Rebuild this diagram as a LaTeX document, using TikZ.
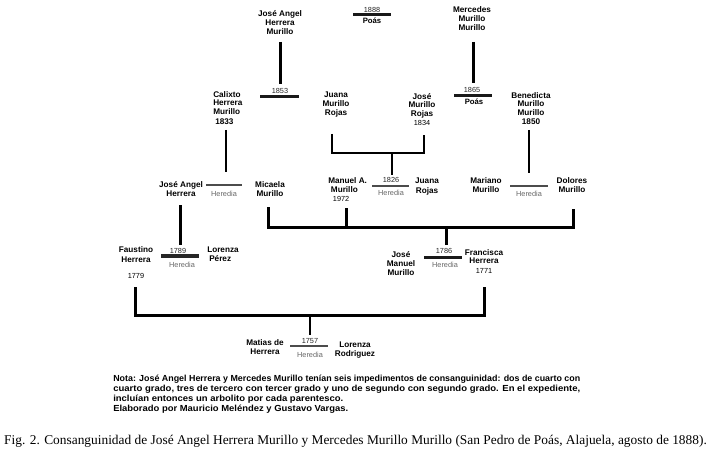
\documentclass[tikz,border=0pt]{standalone}
\usepackage{fontspec}
\usepackage{graphicx}
\newfontfamily\labfont{Liberation Sans}
\newfontfamily\capfont{Liberation Serif}
\tikzset{
  lbl/.style={font=\labfont\fontsize{6.15}{6.75}\selectfont\bfseries, inner sep=0pt, anchor=base, align=center},
  lbll/.style={lbl, align=left, anchor=base west},
  poas/.style={lbl, font=\labfont\fontsize{5.8}{6.5}\selectfont\bfseries},
  yr/.style={font=\labfont\fontsize{5.5}{6}\selectfont, text=black!85, inner sep=0pt, anchor=base},
  her/.style={yr, text=black!60},
  thick line/.style={line width=2.25pt, black},
  mid line/.style={line width=1.8pt, black},
  bar/.style={line width=2.25pt, black!90},
  thin bar/.style={line width=1.4pt, black!70},
}
\newcommand{\yrtxt}[1]{{\mdseries\fontsize{5.5}{6}\selectfont #1}}
\newcommand{\wline}[2]{\resizebox{#1}{\height}{#2}}
\begin{document}
\begin{tikzpicture}[x=0.75pt,y=-0.75pt]
\fill[white] (0,0) rectangle (711,453);
\useasboundingbox (0,0) rectangle (711,453);

% ---------- top row
\node[lbl] (jah) at (280,35) {José Angel\\Herrera\\Murillo};
\node[yr] (y1888) at (372,12.5) {1888};
\node[poas] (poas1) at (372,24) {Poás};
\node[lbl] (mmm) at (472,31) {Mercedes\\Murillo\\Murillo};

\coordinate (b1888a) at (353,15); \coordinate (b1888b) at (391,15);
\draw[bar] (b1888a) -- (b1888b);

\coordinate (jahA) at (280,42); \coordinate (jahB) at (280,84);
\draw[thick line] (jahA) -- (jahB);
\coordinate (mmmA) at (473,42); \coordinate (mmmB) at (473,83);
\draw[thick line] (mmmA) -- (mmmB);

\node[yr] (y1853) at (280,93.5) {1853};
\coordinate (b1853a) at (260,97); \coordinate (b1853b) at (299,97);
\draw[bar] (b1853a) -- (b1853b);

\node[yr] (y1865) at (472,92.5) {1865};
\coordinate (b1865a) at (454,96); \coordinate (b1865b) at (492,96);
\draw[bar] (b1865a) -- (b1865b);
\node[poas] (poas2) at (474,104.5) {Poás};

% ---------- second row
\node[lbll] (calixto) at (213,124) {Calixto\\Herrera\\Murillo\\\hspace*{1.5pt}1833};
\node[lbl] (jmr) at (336,116) {Juana\\Murillo\\Rojas};
\node[lbl] (josemr) at (422,126) {José\\Murillo\\Rojas\\\yrtxt{1834}};
\node[lbl] (bene) at (531,125) {Benedicta\\Murillo\\Murillo\\1850};

\coordinate (calA) at (226,130); \coordinate (calB) at (226,172);
\draw[mid line] (calA) -- (calB);
\coordinate (benA) at (529,130); \coordinate (benB) at (529,173);
\draw[mid line] (benA) -- (benB);

\coordinate (k1a) at (332,134); \coordinate (k1b) at (332,153);
\coordinate (k1c) at (424,153); \coordinate (k1d) at (424,135);
\draw[mid line] (k1a) -- (k1b) -- (k1c) -- (k1d);
\coordinate (k1m) at (392,153); \coordinate (k1n) at (392,175);
\draw[mid line] (k1m) -- (k1n);

% ---------- third row
\node[lbl] (jah2) at (181,196) {José Angel\\Herrera};
\coordinate (bjaha) at (206,185); \coordinate (bjahb) at (242,185);
\draw[thin bar] (bjaha) -- (bjahb);
\node[her] (h1) at (224,196.5) {Heredia};
\node[lbl] (micaela) at (270,196) {Micaela\\Murillo};

\node[lbll] (manuel) at (328,201) {Manuel A.\\\hspace*{2pt}Murillo\\\hspace*{3.5pt}\yrtxt{1972}};
\node[yr] (y1826) at (391,182.5) {1826};
\coordinate (b1826a) at (372,186); \coordinate (b1826b) at (409,186);
\draw[thin bar] (b1826a) -- (b1826b);
\node[her] (h2) at (391,195.5) {Heredia};
\node[lbl] (jrojas) at (427,193) {Juana\\Rojas};

\node[lbl] (mariano) at (486,192) {Mariano\\Murillo};
\coordinate (bmara) at (510,186); \coordinate (bmarb) at (548,186);
\draw[thin bar] (bmara) -- (bmarb);
\node[her] (h3) at (529,196.5) {Heredia};
\node[lbl] (dolores) at (572,192) {Dolores\\Murillo};

\coordinate (jah2A) at (180,205); \coordinate (jah2B) at (180,245);
\draw[thick line] (jah2A) -- (jah2B);

\coordinate (k2a) at (268,207); \coordinate (k2b) at (268,227.5);
\coordinate (k2c) at (573,227.5); \coordinate (k2d) at (573,209);
\draw[thick line] (k2a) -- (k2b) -- (k2c) -- (k2d);
\coordinate (k2e) at (346,208); \coordinate (k2f) at (346,227.5);
\draw[thick line] (k2e) -- (k2f);
\coordinate (k2m) at (446,227.5); \coordinate (k2n) at (446,245);
\draw[thick line] (k2m) -- (k2n);

% ---------- fourth row
\node[lbl] (faustino) at (136,278) {Faustino\\[0.75pt]Herrera\\[5pt]\yrtxt{1779}};
\node[yr] (y1789) at (178,253.5) {1789};
\coordinate (b1789a) at (161,256); \coordinate (b1789b) at (199,256);
\draw[line width=2.6pt, black!85] (b1789a) -- (b1789b);
\node[her] (h4) at (182,267.5) {Heredia};
\node[lbll] (lperez) at (207,261) {Lorenza\\\hspace*{1.5pt}Pérez};

\node[lbl] (jmm) at (401,275) {José\\Manuel\\Murillo};
\node[yr] (y1786) at (444,253.5) {1786};
\coordinate (b1786a) at (424,257); \coordinate (b1786b) at (462,257);
\draw[bar] (b1786a) -- (b1786b);
\node[her] (h5) at (445,267.5) {Heredia};
\node[lbl] (fh) at (484,273.6) {Francisca\\[-0.75pt]Herrera\\[0.75pt]\yrtxt{1771}};

\coordinate (k3a) at (135,287); \coordinate (k3b) at (135,315.5);
\coordinate (k3c) at (484,315.5); \coordinate (k3d) at (484,287);
\draw[thick line] (k3a) -- (k3b) -- (k3c) -- (k3d);
\coordinate (k3m) at (310,315.5); \coordinate (k3n) at (310,335);
\draw[mid line] (k3m) -- (k3n);

% ---------- bottom couple
\node[lbl] (matias) at (265,354) {Matias de\\Herrera};
\node[yr] (y1757) at (310,343.5) {1757};
\coordinate (b1757a) at (290,346); \coordinate (b1757b) at (328,346);
\draw[thin bar] (b1757a) -- (b1757b);
\node[her] (h6) at (310,357.5) {Heredia};
\node[lbl] (lrod) at (355,356) {Lorenza\\Rodriguez};

% ---------- note
\node[font=\labfont\fontsize{6.6}{7.6}\selectfont\bfseries, inner sep=0pt, anchor=base west, align=left] (note) at (113,411.5)
  {\wline{350.25pt}{Nota: José Angel Herrera y Mercedes Murillo tenían seis impedimentos de consanguinidad: dos de cuarto con}\\
   \wline{350.25pt}{cuarto grado, tres de tercero con tercer grado y uno de segundo con segundo grado. En el expediente,}\\
   \wline{172.5pt}{incluían entonces un arbolito por cada parentesco.}\\
   \wline{176.25pt}{Elaborado por Mauricio Meléndez y Gustavo Vargas.}};

% ---------- caption
\node[inner sep=0pt, anchor=base] (caption) at (355.5,444)
  {\resizebox{527pt}{!}{\capfont\fontsize{9.6}{11}\selectfont Fig. 2. Consanguinidad de José Angel Herrera Murillo y Mercedes Murillo Murillo (San Pedro de Poás, Alajuela, agosto de 1888).}};
\end{tikzpicture}
\end{document}
